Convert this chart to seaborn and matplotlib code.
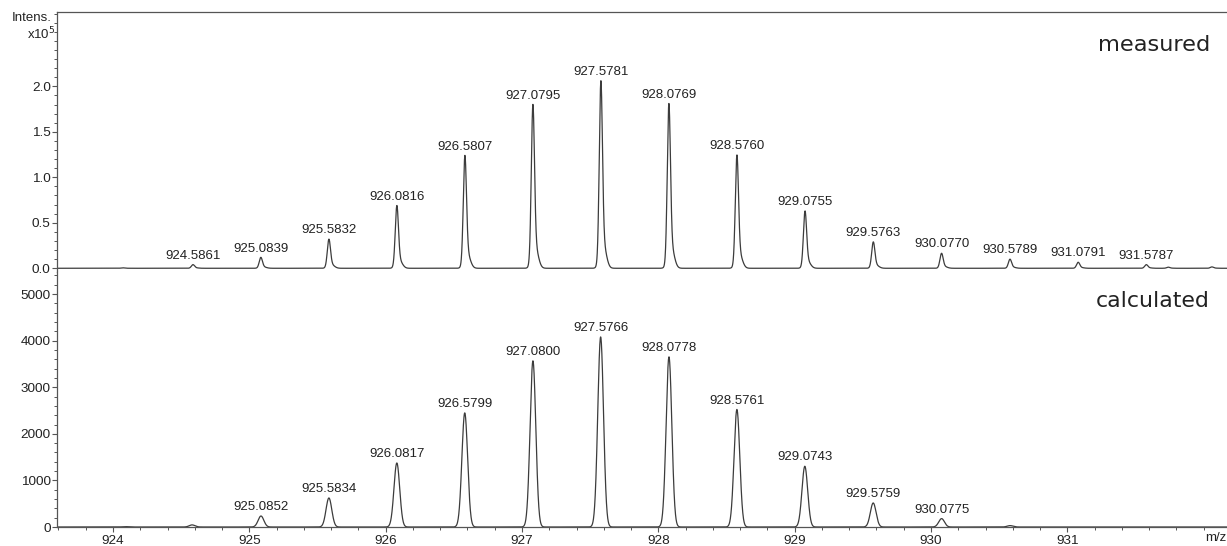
import numpy as np
import matplotlib
matplotlib.use('Agg')
import matplotlib.pyplot as plt
from matplotlib.ticker import MultipleLocator
import seaborn as sns

sns.set_theme(style='ticks')
plt.rcParams['font.family'] = ['Liberation Sans', 'DejaVu Sans']

# measured isotope pattern (intensity in units of 1e5), labelled peaks
meas_mz = [924.5861, 925.0839, 925.5832, 926.0816, 926.5807, 927.0795, 927.5781,
           928.0769, 928.5760, 929.0755, 929.5763, 930.0770, 930.5789, 931.0791, 931.5787]
meas_int = [0.04, 0.12, 0.32, 0.69, 1.24, 1.80, 2.06,
            1.81, 1.245, 0.63, 0.29, 0.165, 0.10, 0.066, 0.04]
# small unlabelled bumps in the measured trace
meas_extra_mz = [924.07, 931.74, 932.06]
meas_extra_int = [0.005, 0.012, 0.015]

# calculated isotope pattern, labelled peaks
calc_mz = [925.0852, 925.5834, 926.0817, 926.5799, 927.0800, 927.5766,
           928.0778, 928.5761, 929.0743, 929.5759, 930.0775]
calc_int = [236, 623, 1375, 2450, 3567, 4080, 3653, 2523, 1304, 516, 180]
calc_extra_mz = [924.09, 924.58, 930.58]
calc_extra_int = [8, 45, 30]

line_col = '#3c3c3c'
text_col = '#222222'

xmin, xmax = 923.589, 932.261
grid = np.linspace(xmin, xmax, 10000)


def measured_profile(mz_list, int_list):
    # narrow peak with a small tail on the high-mass side
    y = np.zeros_like(grid)
    for m, h in zip(mz_list, int_list):
        core = np.exp(-0.5 * ((grid - m) / 0.0115) ** 2)
        tail = np.exp(-0.5 * ((grid - m - 0.018) / 0.022) ** 2)
        shape = 0.88 * core + 0.12 * tail
        y += h * shape / (0.88 + 0.12 * np.exp(-0.5 * (0.018 / 0.022) ** 2))
    return y


def calc_profile(mz_list, int_list):
    y = np.zeros_like(grid)
    for m, h in zip(mz_list, int_list):
        y += h * np.exp(-0.5 * ((grid - m) / 0.021) ** 2)
    return y


y_meas = measured_profile(meas_mz + meas_extra_mz, meas_int + meas_extra_int)
y_calc = calc_profile(calc_mz + calc_extra_mz, calc_int + calc_extra_int)

W, H = 1227, 546
fig = plt.figure(figsize=(W / 100, H / 100), dpi=100)
left = 57 / W
ax1 = fig.add_axes([left, 1 - 272 / H, 1.01 - left, (272 - 12) / H])
ax2 = fig.add_axes([left, 1 - 527 / H, 1.01 - left, (527 - 272) / H])

sns.lineplot(x=grid, y=y_meas, ax=ax1, color=line_col, linewidth=0.9, estimator=None)
sns.lineplot(x=grid, y=y_calc, ax=ax2, color=line_col, linewidth=0.9, estimator=None)

for ax in (ax1, ax2):
    ax.set_xlim(xmin, xmax)
    ax.set_facecolor('white')
    ax.spines['right'].set_visible(False)
    for s in ax.spines.values():
        s.set_color('#555555')
        s.set_linewidth(0.9)
    ax.tick_params(axis='y', which='major', direction='out', length=3.5, width=0.8,
                   labelsize=9.7, pad=1, colors='#555555', labelcolor=text_col)
    ax.tick_params(axis='y', which='minor', direction='out', length=2, width=0.7,
                   colors='#555555')

# upper panel
ax1.set_ylim(-0.041, 2.817)
ax1.spines['bottom'].set_visible(False)
ax1.set_xticks([])
ax1.set_yticks([0, 0.5, 1.0, 1.5, 2.0])
ax1.set_yticklabels(['0.0', '0.5', '1.0', '1.5', '2.0'])
ax1.yaxis.set_minor_locator(MultipleLocator(0.1))

# lower panel
ax2.set_ylim(0, 5474)
ax2.spines['top'].set_visible(False)
ax2.set_yticks([0, 1000, 2000, 3000, 4000, 5000])
ax2.yaxis.set_minor_locator(MultipleLocator(200))
ax2.set_xticks(range(924, 932))
ax2.xaxis.set_minor_locator(MultipleLocator(0.2))
ax2.tick_params(axis='x', which='major', direction='out', length=3.5, width=0.8,
                labelsize=9.7, pad=2, colors='#555555', labelcolor=text_col)
ax2.tick_params(axis='x', which='minor', direction='out', length=2, width=0.7,
                colors='#555555')

for m, h in zip(meas_mz, meas_int):
    ax1.annotate(f'{m:.4f}', xy=(m, h), xytext=(0, 2), textcoords='offset points',
                 ha='center', va='bottom', fontsize=9.5, color=text_col)
for m, h in zip(calc_mz, calc_int):
    ax2.annotate(f'{m:.4f}', xy=(m, h), xytext=(0, 2), textcoords='offset points',
                 ha='center', va='bottom', fontsize=9.5, color=text_col)

ax1.text(1210 / W, 1 - 45 / H, 'measured', transform=fig.transFigure, ha='right',
         va='center', fontsize=16.2, color=text_col, family='DejaVu Sans')
ax2.text(1210 / W, 1 - 301 / H, 'calculated', transform=fig.transFigure, ha='right',
         va='center', fontsize=15.8, color=text_col, family='DejaVu Sans')

fig.text(52 / W, 1 - 18 / H, 'Intens.', ha='right', va='center', fontsize=9.5, color=text_col)
fig.text(55 / W, 1 - 34 / H, r'x10$^5$', ha='right', va='center', fontsize=9.5, color=text_col)
fig.text(1226 / W, 1 - 538 / H, 'm/z', ha='right', va='center', fontsize=9.5, color=text_col)

fig.savefig('out.png', dpi=100, facecolor='white')
